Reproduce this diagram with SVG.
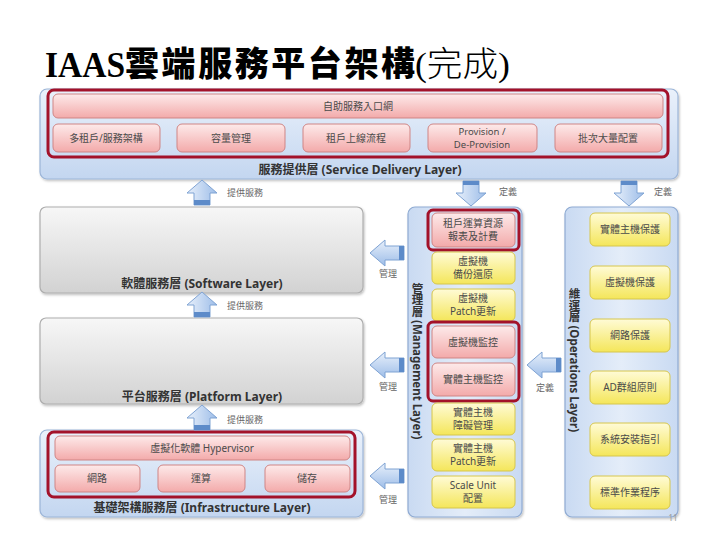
<svg xmlns="http://www.w3.org/2000/svg" width="720" height="540" viewBox="0 0 720 540">
<defs>
<linearGradient id="gBlue" x1="0" y1="0" x2="0" y2="1"><stop offset="0" stop-color="#eaf1fb"/><stop offset="1" stop-color="#c3d6f0"/></linearGradient>
<linearGradient id="gBlueV" x1="0" y1="0" x2="1" y2="0"><stop offset="0" stop-color="#c9daf2"/><stop offset="0.5" stop-color="#e4edf9"/><stop offset="1" stop-color="#c9daf2"/></linearGradient>
<linearGradient id="gGray" x1="0" y1="0" x2="0" y2="1"><stop offset="0" stop-color="#f7f7f7"/><stop offset="1" stop-color="#d2d2d2"/></linearGradient>
<linearGradient id="gPink" x1="0" y1="0" x2="0" y2="1"><stop offset="0" stop-color="#fdeaea"/><stop offset="1" stop-color="#f3aaaa"/></linearGradient>
<linearGradient id="gYel" x1="0" y1="0" x2="0" y2="1"><stop offset="0" stop-color="#fffbd6"/><stop offset="1" stop-color="#f4e65a"/></linearGradient>
<linearGradient id="gArrH" x1="0" y1="0" x2="0" y2="1"><stop offset="0" stop-color="#e8f0fb"/><stop offset="1" stop-color="#9dbde8"/></linearGradient>
<linearGradient id="gArrV" x1="0" y1="0" x2="1" y2="0"><stop offset="0" stop-color="#e8f0fb"/><stop offset="1" stop-color="#9dbde8"/></linearGradient>
<filter id="sh" x="-10%" y="-10%" width="130%" height="140%"><feDropShadow dx="1" dy="1.5" stdDeviation="1.2" flood-color="#000" flood-opacity="0.25"/></filter>
<path id="arrLeft" d="M0,0 L15,-13 L15,-7 L34,-7 L34,7 L15,7 L15,13 Z"/>
<path id="arrUp" d="M0,0 L15,13 L8,13 L8,25 L-8,25 L-8,13 L-15,13 Z"/>
<path id="arrDown" d="M0,0 L15,-13 L8,-13 L8,-25 L-8,-25 L-8,-13 L-15,-13 Z"/>
</defs>
<style>
.blue{fill:url(#gBlue);stroke:#9cb5d8;stroke-width:1.2}
.bluev{fill:url(#gBlueV);stroke:#8fabd3;stroke-width:1.2}
.gray{fill:url(#gGray);stroke:#aeaeae;stroke-width:1.2}
.pink{fill:url(#gPink);stroke:#cf8585;stroke-width:1}
.yel{fill:url(#gYel);stroke:#d6c64c;stroke-width:1}
.red{fill:none;stroke:#a3122a;stroke-width:3}
.arrh{fill:url(#gArrH);stroke:#7fa3d3;stroke-width:1}
.arrv{fill:url(#gArrV);stroke:#7fa3d3;stroke-width:1}
.bar{fill:#5d8bc9}
.t{font-family:"Noto Sans","Noto Sans CJK TC",sans-serif;font-size:10px;fill:#4a4a4a;text-anchor:middle}
.lay{font-family:"Noto Sans","Noto Sans CJK TC",sans-serif;font-size:12px;font-weight:bold;fill:#333;text-anchor:middle}
.lab{font-family:"Noto Sans CJK TC",sans-serif;font-size:9px;fill:#666;text-anchor:middle}
.vert{font-family:"Noto Sans","Noto Sans CJK TC",sans-serif;font-size:11.5px;font-weight:bold;fill:#333;text-anchor:middle;writing-mode:vertical-rl}
</style>

<g id="title">
<text x="45" y="77" font-family="Liberation Serif,serif" font-weight="bold" font-size="36" textLength="80" lengthAdjust="spacingAndGlyphs" fill="#000">IAAS</text>
<text x="125" y="76" font-family="Noto Sans CJK TC,sans-serif" font-weight="900" font-size="34" textLength="290" lengthAdjust="spacing" fill="#000">雲端服務平台架構</text>
<text x="415" y="76" font-family="Liberation Serif,Noto Sans CJK TC,serif" font-size="34" textLength="95" lengthAdjust="spacingAndGlyphs" fill="#000">(<tspan font-family="Noto Sans CJK TC,sans-serif" font-weight="300">完成</tspan>)</text>
</g>

<g id="service-layer">
<rect class="blue" x="40" y="89" width="638" height="90" rx="7" filter="url(#sh)"/>
<rect class="red" x="48" y="90" width="620" height="67" rx="6"/>
<rect class="pink" x="53" y="94" width="610" height="24" rx="5"/>
<text class="t" x="358" y="110">自助服務入口網</text>
<rect class="pink" x="53" y="124" width="107" height="28" rx="5"/>
<text class="t" x="106" y="142">多租戶/服務架構</text>
<rect class="pink" x="177" y="124" width="108" height="28" rx="5"/>
<text class="t" x="231" y="142">容量管理</text>
<rect class="pink" x="303" y="124" width="107" height="28" rx="5"/>
<text class="t" x="356" y="142">租戶上線流程</text>
<rect class="pink" x="428" y="124" width="109" height="28" rx="5"/>
<text class="t" x="482" y="135" style="font-size:9.5px">Provision /</text>
<text class="t" x="482" y="148" style="font-size:9.5px">De-Provision</text>
<rect class="pink" x="555" y="124" width="107" height="28" rx="5"/>
<text class="t" x="608" y="142">批次大量配置</text>
<text class="lay" x="360" y="174">服務提供層 (Service Delivery Layer)</text>
</g>

<g id="software-layer">
<rect class="gray" x="40" y="207" width="323" height="86" rx="6" filter="url(#sh)"/>
<text class="lay" x="202" y="288">軟體服務層 (Software Layer)</text>
</g>

<g id="platform-layer">
<rect class="gray" x="40" y="318" width="323" height="86" rx="6" filter="url(#sh)"/>
<text class="lay" x="202" y="401">平台服務層 (Platform Layer)</text>
</g>

<g id="infrastructure-layer">
<rect class="blue" x="40" y="430" width="323" height="87" rx="7" filter="url(#sh)"/>
<rect class="red" x="48" y="432" width="307" height="65" rx="6"/>
<rect class="pink" x="55" y="436" width="295" height="24" rx="5"/>
<text class="t" x="202" y="452">虛擬化軟體 Hypervisor</text>
<rect class="pink" x="55" y="465" width="85" height="27" rx="5"/>
<text class="t" x="97" y="482">網路</text>
<rect class="pink" x="158" y="465" width="87" height="27" rx="5"/>
<text class="t" x="201" y="482">運算</text>
<rect class="pink" x="265" y="465" width="85" height="27" rx="5"/>
<text class="t" x="307" y="482">儲存</text>
<text class="lay" x="202" y="512">基礎架構服務層 (Infrastructure Layer)</text>
</g>

<g id="management-layer">
<rect class="bluev" x="408" y="207" width="114" height="310" rx="7" filter="url(#sh)"/>
<text class="vert" x="417" y="361">管理層 (Management Layer)</text>
<rect class="pink" x="432" y="213" width="83" height="34" rx="5"/>
<text class="t" x="473" y="227">租戶運算資源</text>
<text class="t" x="473" y="240">報表及計費</text>
<rect class="red" x="428" y="210" width="91" height="40" rx="5"/>
<rect class="yel" x="432" y="252" width="83" height="32" rx="5"/>
<text class="t" x="473" y="265">虛擬機</text>
<text class="t" x="473" y="278">備份還原</text>
<rect class="yel" x="432" y="289" width="83" height="32" rx="5"/>
<text class="t" x="473" y="302">虛擬機</text>
<text class="t" x="473" y="315">Patch更新</text>
<rect class="pink" x="432" y="326" width="83" height="32" rx="5"/>
<text class="t" x="473" y="346">虛擬機監控</text>
<rect class="pink" x="432" y="363" width="83" height="33" rx="5"/>
<text class="t" x="473" y="383">實體主機監控</text>
<rect class="red" x="428" y="322" width="91" height="79" rx="5"/>
<rect class="yel" x="432" y="403" width="83" height="32" rx="5"/>
<text class="t" x="473" y="416">實體主機</text>
<text class="t" x="473" y="429">障礙管理</text>
<rect class="yel" x="432" y="439" width="83" height="32" rx="5"/>
<text class="t" x="473" y="452">實體主機</text>
<text class="t" x="473" y="465">Patch更新</text>
<rect class="yel" x="432" y="476" width="83" height="32" rx="5"/>
<text class="t" x="473" y="489">Scale Unit</text>
<text class="t" x="473" y="502">配置</text>
</g>

<g id="operations-layer">
<rect class="bluev" x="565" y="207" width="113" height="310" rx="7" filter="url(#sh)"/>
<text class="vert" x="574" y="360">維運層 (Operations Layer)</text>
<rect class="yel" x="590" y="213" width="80" height="33" rx="5"/>
<text class="t" x="630" y="233">實體主機保護</text>
<rect class="yel" x="590" y="266" width="80" height="33" rx="5"/>
<text class="t" x="630" y="286">虛擬機保護</text>
<rect class="yel" x="590" y="319" width="80" height="33" rx="5"/>
<text class="t" x="630" y="339">網路保護</text>
<rect class="yel" x="590" y="371" width="80" height="33" rx="5"/>
<text class="t" x="630" y="391">AD群組原則</text>
<rect class="yel" x="590" y="423" width="80" height="33" rx="5"/>
<text class="t" x="630" y="443">系統安裝指引</text>
<rect class="yel" x="590" y="476" width="80" height="33" rx="5"/>
<text class="t" x="630" y="496">標準作業程序</text>
</g>

<g id="connectors">
<g transform="translate(202,180)"><use href="#arrUp" class="arrv"/><rect class="bar" x="-8" y="20" width="16" height="5"/></g>
<text class="lab" x="245" y="196">提供服務</text>
<g transform="translate(202,292)"><use href="#arrUp" class="arrv"/><rect class="bar" x="-8" y="20" width="16" height="5"/></g>
<text class="lab" x="245" y="309">提供服務</text>
<g transform="translate(202,405)"><use href="#arrUp" class="arrv"/><rect class="bar" x="-8" y="20" width="16" height="5"/></g>
<text class="lab" x="245" y="423">提供服務</text>
<g transform="translate(471,206)"><use href="#arrDown" class="arrv"/><rect class="bar" x="-8" y="-25" width="16" height="4"/></g>
<text class="lab" x="508" y="195">定義</text>
<g transform="translate(629,206)"><use href="#arrDown" class="arrv"/><rect class="bar" x="-8" y="-25" width="16" height="4"/></g>
<text class="lab" x="663" y="195">定義</text>
<g transform="translate(370,253)"><use href="#arrLeft" class="arrh"/><rect class="bar" x="29" y="-7" width="5" height="14"/></g>
<text class="lab" x="388" y="277">管理</text>
<g transform="translate(370,365)"><use href="#arrLeft" class="arrh"/><rect class="bar" x="29" y="-7" width="5" height="14"/></g>
<text class="lab" x="388" y="390">管理</text>
<g transform="translate(370,476)"><use href="#arrLeft" class="arrh"/><rect class="bar" x="29" y="-7" width="5" height="14"/></g>
<text class="lab" x="388" y="503">管理</text>
<g transform="translate(527,365)"><use href="#arrLeft" class="arrh"/><rect class="bar" x="29" y="-7" width="5" height="14"/></g>
<text class="lab" x="545" y="391">定義</text>
</g>
<text x="673" y="521" font-family="Noto Sans,sans-serif" font-size="8" fill="#999" text-anchor="middle">11</text>
</svg>
